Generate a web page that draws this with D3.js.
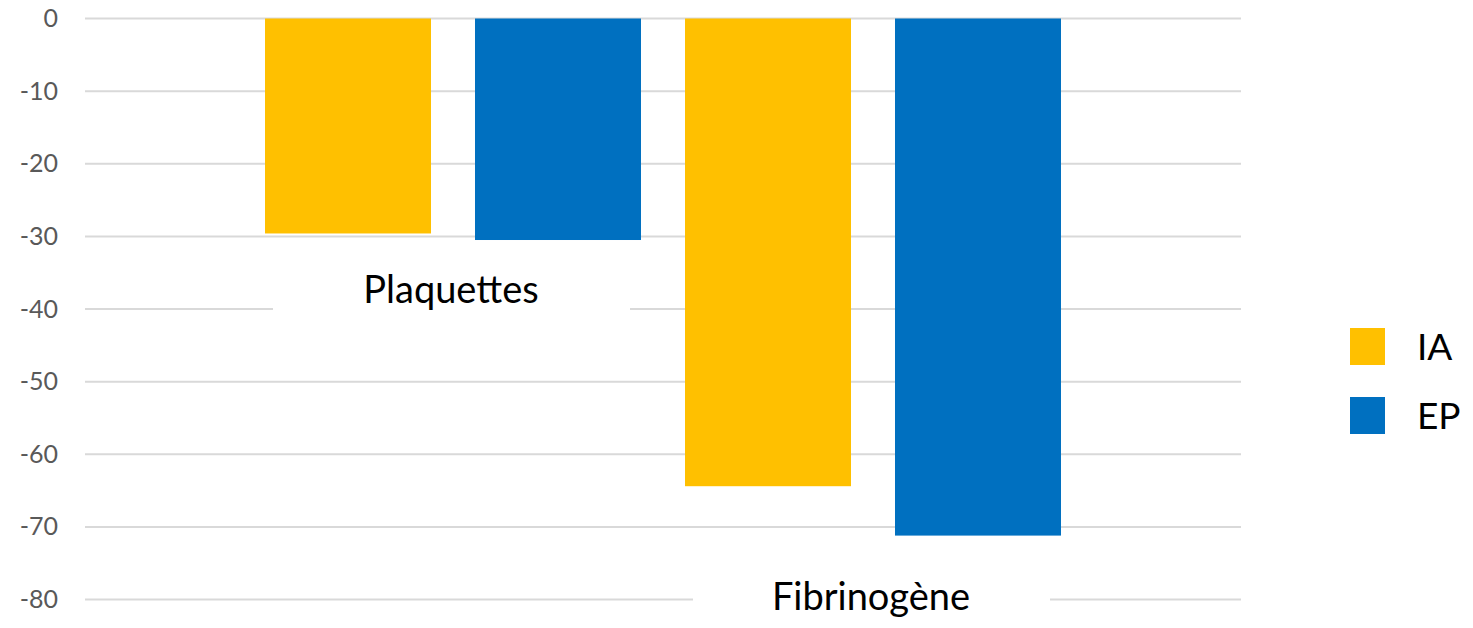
<!DOCTYPE html>
<html>
<head>
<meta charset="utf-8">
<script src="https://cdn.jsdelivr.net/npm/d3@7"></script>
<style>
	body { margin: 0; background: #fff; }
	text { font-family: Lato, "Open Sans", sans-serif; }
</style>
</head>
<body>
<script>
var categories = ['Plaquettes', 'Fibrinogène'];
var seriesNames = ['IA', 'EP'];
var iaValues = [-29.6, -64.4];
var epValues = [-30.5, -71.2];
var yTicks = [0, -10, -20, -30, -40, -50, -60, -70, -80];
var colors = ['#FFC000', '#0070C0'];

var w = 1473, h = 628;

var svg = d3.select('body')
	.append('svg')
	.attr('width', w)
	.attr('height', h);

var y = d3.scaleLinear()
	.domain([0, -80])
	.range([18.5, 599.5]);

var x0 = d3.scaleBand()
	.domain(categories)
	.range([243, 1083]);

var x1 = d3.scaleBand()
	.domain(seriesNames)
	.range([0, x0.bandwidth()])
	.paddingInner(0.2095)
	.paddingOuter(0.1048);

// gridlines
svg.append('g')
	.selectAll('line')
	.data(yTicks)
	.enter()
	.append('line')
	.attr('x1', 85)
	.attr('x2', 1241)
	.attr('y1', function(d) { return y(d); })
	.attr('y2', function(d) { return y(d); })
	.attr('stroke', '#d9d9d9')
	.attr('stroke-width', 2);

// y axis labels (plain hyphen like the original)
var yAxis = d3.axisLeft(y)
	.tickValues(yTicks)
	.tickSize(0)
	.tickPadding(0)
	.tickFormat(function(d) { return String(d); });

var ag = svg.append('g')
	.attr('transform', 'translate(58,0)')
	.call(yAxis);
ag.select('.domain').remove();
ag.selectAll('text')
	.attr('fill', '#595959')
	.style('font-size', '25px')
	.style('font-family', 'Lato, sans-serif');

var rows = categories.map(function(c, i) {
	return { cat: c, vals: [iaValues[i], epValues[i]] };
});

// bars
var groups = svg.selectAll('g.cat')
	.data(rows)
	.enter()
	.append('g')
	.attr('class', 'cat')
	.attr('transform', function(d) { return 'translate(' + x0(d.cat) + ',0)'; });

groups.selectAll('rect')
	.data(function(d) {
		return d.vals.map(function(v, j) { return { s: seriesNames[j], v: v, j: j }; });
	})
	.enter()
	.append('rect')
	.attr('x', function(d) { return x1(d.s); })
	.attr('y', y(0))
	.attr('width', x1.bandwidth())
	.attr('height', function(d) { return y(d.v) - y(0); })
	.attr('fill', function(d) { return colors[d.j]; });

// category labels with white boxes over gridlines
rows.forEach(function(d, i) {
	var lowest = d3.min(d.vals);
	var base = i === rows.length - 1 ? y(-80) + 10 : y(lowest) + 63;
	var cx = x0(d.cat) + x0.bandwidth() / 2 - 2;
	svg.append('rect')
		.attr('x', cx - 178)
		.attr('y', base - 36)
		.attr('width', 357)
		.attr('height', 50)
		.attr('fill', '#fff');
	svg.append('text')
		.attr('x', cx)
		.attr('y', base)
		.attr('text-anchor', 'middle')
		.attr('fill', '#000')
		.style('font-size', '38px')
		.text(d.cat);
});

// legend
var legend = svg.selectAll('g.legend')
	.data(seriesNames)
	.enter()
	.append('g')
	.attr('class', 'legend')
	.attr('transform', function(d, i) { return 'translate(1350,' + (328 + i * 69) + ')'; });

legend.append('rect')
	.attr('width', 35)
	.attr('height', 37)
	.attr('fill', function(d, i) { return colors[i]; });

legend.append('text')
	.attr('x', 67)
	.attr('y', 32)
	.attr('fill', '#000')
	.style('font-size', '37px')
	.text(function(d) { return d; });
</script>
</body>
</html>
